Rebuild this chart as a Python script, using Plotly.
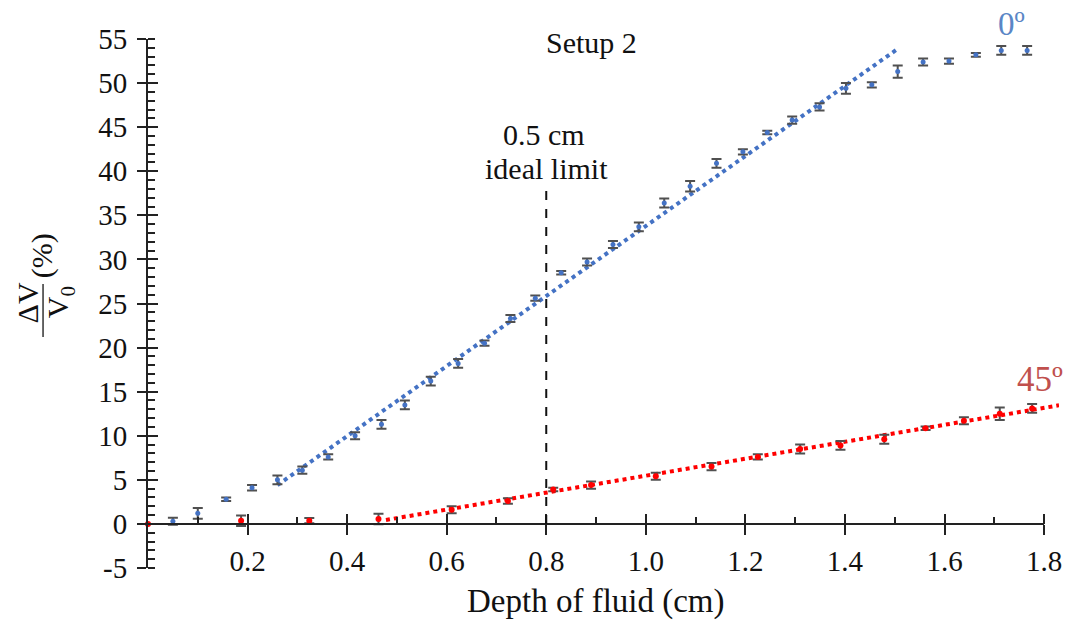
import plotly.graph_objects as go

# ---------------- data ----------------
depth_0 = [0.0, 0.05, 0.10, 0.157, 0.209, 0.26, 0.31, 0.362, 0.416, 0.469, 0.516, 0.568,
           0.623, 0.676, 0.728, 0.778, 0.830, 0.882, 0.934, 0.986, 1.037, 1.089, 1.142,
           1.195, 1.244, 1.294, 1.349, 1.402, 1.454, 1.506, 1.557, 1.609, 1.663, 1.714, 1.766]
dv_0 = [0.0, 0.3, 1.2, 2.8, 4.1, 5.0, 6.1, 7.6, 10.0, 11.3, 13.5, 16.2,
        18.2, 20.5, 23.3, 25.6, 28.5, 29.7, 31.7, 33.7, 36.4, 38.3, 40.9,
        42.2, 44.4, 45.8, 47.3, 49.4, 49.8, 51.3, 52.4, 52.5, 53.2, 53.7, 53.7]
err_0 = [0.0, 0.4, 0.6, 0.2, 0.3, 0.5, 0.4, 0.3, 0.4, 0.5, 0.5, 0.5,
         0.5, 0.3, 0.4, 0.3, 0.2, 0.4, 0.4, 0.5, 0.5, 0.6, 0.5,
         0.3, 0.2, 0.4, 0.4, 0.6, 0.3, 0.7, 0.4, 0.3, 0.2, 0.5, 0.5]

depth_45 = [0.0, 0.187, 0.324, 0.463, 0.610, 0.723, 0.814, 0.890, 1.020, 1.132,
            1.225, 1.310, 1.391, 1.479, 1.562, 1.639, 1.711, 1.776]
dv_45 = [0.0, 0.35, 0.37, 0.55, 1.6, 2.6, 3.9, 4.4, 5.4, 6.5,
         7.6, 8.5, 8.9, 9.6, 10.85, 11.7, 12.5, 13.1]
err_45 = [0.0, 0.6, 0.3, 0.6, 0.4, 0.3, 0.2, 0.4, 0.4, 0.4,
          0.3, 0.5, 0.5, 0.5, 0.2, 0.4, 0.7, 0.5]

fit_0_x = [0.26, 1.504]
fit_0_y = [4.4, 53.8]
fit_45_x = [0.478, 1.83]
fit_45_y = [0.45, 13.45]

ideal_limit_x = 0.8
ideal_limit_top = 38.2

x_tickvals = [0.2, 0.4, 0.6, 0.8, 1.0, 1.2, 1.4, 1.6, 1.8]
x_ticktext = ["0.2", "0.4", "0.6", "0.8", "1.0", "1.2", "1.4", "1.6", "1.8"]
x_minorvals = [0.1, 0.3, 0.5, 0.7, 0.9, 1.1, 1.3, 1.5, 1.7]
y_tickvals = [-5, 0, 5, 10, 15, 20, 25, 30, 35, 40, 45, 50, 55]
y_ticktext = ["-5", "0", "5", "10", "15", "20", "25", "30", "35", "40", "45", "50", "55"]
y_range = [-5, 55]
x_axis_end = 1.8          # visible axis line ends here
x_range = [0, 1.83]       # plot area runs a bit further (red fit line overshoots)

# ---------------- styling ----------------
FONT = "Liberation Serif"
AX = "#222222"
BLUE = "#4472C4"
RED = "#FF0000"
ERR = "#505050"

# the page body adds an 8 px margin; build the figure 8 px smaller
OFF = 8
W, H = 1073 - OFF, 621 - OFF
L, R, T, B = 148, 1062, 39, 568   # plot-area edges in the window's pixels


def px(xp):
    return (xp - L) / (R - L)


def py(yp):
    return (B - yp) / (B - T)


fig = go.Figure()

# trend lines
fig.add_trace(go.Scatter(x=fit_0_x, y=fit_0_y, mode="lines",
                         line=dict(color=BLUE, width=4, dash="dot"),
                         cliponaxis=False, hoverinfo="skip", showlegend=False))
fig.add_trace(go.Scatter(x=fit_45_x, y=fit_45_y, mode="lines",
                         line=dict(color=RED, width=4, dash="dot"),
                         cliponaxis=False, hoverinfo="skip", showlegend=False))

# data with error bars
fig.add_trace(go.Scatter(x=depth_0, y=dv_0, mode="markers", name="0º",
                         marker=dict(color=BLUE, size=5),
                         error_y=dict(type="data", array=err_0, color=ERR,
                                      thickness=2, width=5),
                         cliponaxis=False, showlegend=False))
fig.add_trace(go.Scatter(x=depth_45, y=dv_45, mode="markers", name="45º",
                         marker=dict(color=RED, size=6),
                         error_y=dict(type="data", array=err_45, color=ERR,
                                      thickness=2, width=5),
                         cliponaxis=False, showlegend=False))

# invisible trace for the overlay axes (inward half of crossing ticks)
fig.add_trace(go.Scatter(x=[0.5], y=[10], xaxis="x2", yaxis="y2", mode="markers",
                         marker=dict(opacity=0), showlegend=False, hoverinfo="skip"))

# x axis line along y = 0, from 0 to the axis end
fig.add_shape(type="line", xref="x", yref="y",
              x0=x_range[0], x1=x_axis_end, y0=0, y1=0,
              line=dict(color=AX, width=2), layer="above")

# ideal limit line
fig.add_shape(type="line", xref="x", yref="y",
              x0=ideal_limit_x, x1=ideal_limit_x, y0=0, y1=ideal_limit_top,
              line=dict(color="#111111", width=2, dash="dash"))

# fraction bar of the y title
fig.add_shape(type="line", xref="paper", yref="paper",
              x0=px(42.7), x1=px(42.7), y0=py(284), y1=py(337),
              line=dict(color="#333333", width=1.5))

ann = []


def text(t, x, y, size=26, color="#111111", angle=0):
    ann.append(dict(text=t, x=px(x), y=py(y), xref="paper", yref="paper",
                    showarrow=False, xanchor="center", yanchor="middle",
                    textangle=angle, font=dict(family=FONT, size=size, color=color)))


text("Setup 2", 593, 43, 30)
text("0.5 cm", 545, 134, 30)
text("ideal limit", 548, 168, 30)
text("0º", 1014, 24, 33, "#5A86C6")
text("45º", 1043, 380, 35, "#C0504D")
text("Depth of fluid (cm)", 597, 601, 33)
text("ΔV", 27, 303, 30, angle=-90)
text("V<sub>0</sub>", 60, 302, 30, angle=-90)
text("(%)", 42, 256, 30, angle=-90)

pos0 = (0 - y_range[0]) / (y_range[1] - y_range[0])

common_x = dict(range=x_range, showgrid=False, zeroline=False)
common_y = dict(range=y_range, showgrid=False, zeroline=False)

fig.update_layout(
    width=W, height=H,
    margin=dict(l=L - OFF, r=1073 - R, t=T - OFF, b=621 - B, pad=0),
    paper_bgcolor="white", plot_bgcolor="white",
    font=dict(family=FONT, size=28, color="#111111"),
    annotations=ann,
    xaxis=dict(**common_x, anchor="free", position=pos0,
               showline=False,
               tickmode="array", tickvals=x_tickvals, ticktext=x_ticktext,
               ticks="outside", ticklen=10, tickwidth=2, tickcolor=AX,
               ticklabelstandoff=1,
               tickfont=dict(family=FONT, size=29, color="#111111"),
               minor=dict(tickmode="array", tickvals=x_minorvals, ticks="inside",
                          ticklen=7, tickwidth=2, tickcolor=AX)),
    yaxis=dict(**common_y, showline=True, linecolor=AX, linewidth=2,
               tickmode="array", tickvals=y_tickvals, ticktext=y_ticktext,
               ticks="outside", ticklen=9, tickwidth=2, tickcolor=AX,
               ticklabelstandoff=4,
               tickfont=dict(family=FONT, size=29, color="#111111"),
               minor=dict(tickmode="linear", tick0=0, dtick=1, ticks="inside",
                          ticklen=7, tickwidth=2, tickcolor=AX)),
    xaxis2=dict(**common_x, overlaying="x", anchor="free", position=pos0,
                showline=False, tickmode="array", tickvals=x_tickvals,
                ticks="inside", ticklen=10, tickwidth=2, tickcolor=AX,
                showticklabels=False),
    yaxis2=dict(**common_y, overlaying="y", anchor="x2", side="left",
                showline=False, tickmode="array", tickvals=y_tickvals,
                ticks="inside", ticklen=10, tickwidth=2, tickcolor=AX,
                showticklabels=False),
)

fig.write_html("out.html")
